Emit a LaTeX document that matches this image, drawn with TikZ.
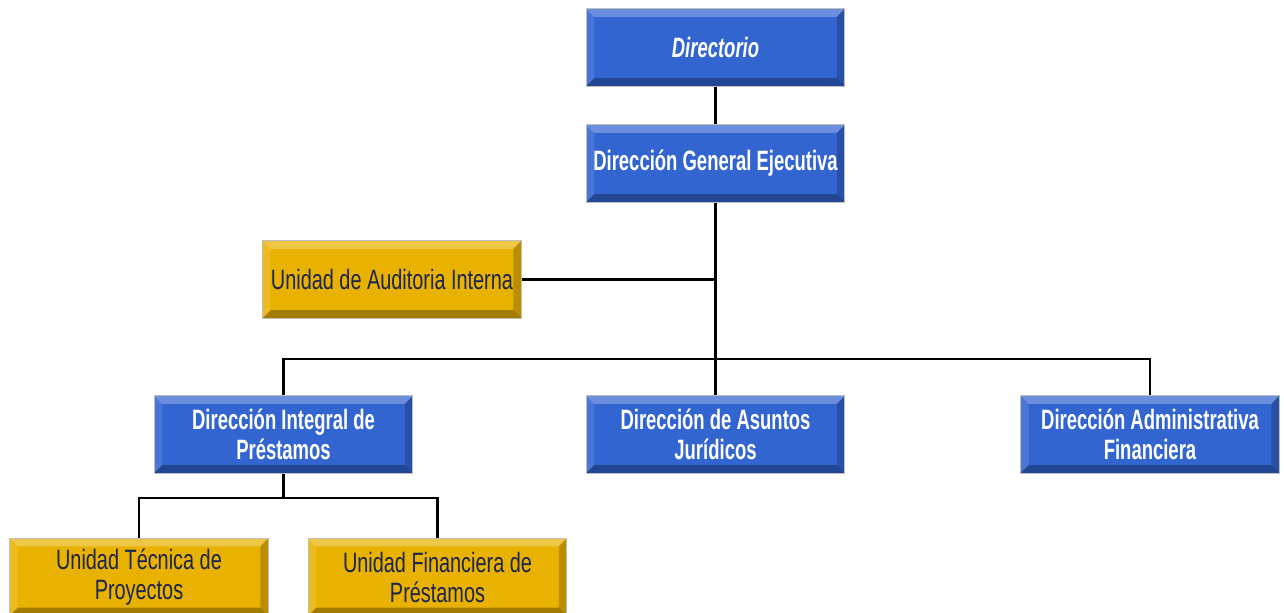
\documentclass[tikz,border=0pt]{standalone}
\usepackage{fontspec}
\setmainfont{Liberation Sans}[FakeStretch=0.66]
\newfontfamily\officefont{Liberation Sans}[FakeStretch=0.71]
\definecolor{boxblue}{HTML}{3265D0}
\definecolor{boxgold}{HTML}{E9B200}
\definecolor{navytext}{HTML}{1C2450}

\tikzstyle{bevel} = [path picture={
    \fill [white,opacity=0.28] (path picture bounding box.north west) -- (path picture bounding box.north east)
        -- ([xshift=-6pt,yshift=-6pt]path picture bounding box.north east) -- ([xshift=6pt,yshift=-6pt]path picture bounding box.north west) -- cycle;
    \fill [white,opacity=0.12] (path picture bounding box.north west) -- (path picture bounding box.south west)
        -- ([xshift=6pt,yshift=6pt]path picture bounding box.south west) -- ([xshift=6pt,yshift=-6pt]path picture bounding box.north west) -- cycle;
    \fill [black,opacity=0.30] (path picture bounding box.south west) -- (path picture bounding box.south east)
        -- ([xshift=-6pt,yshift=6pt]path picture bounding box.south east) -- ([xshift=6pt,yshift=6pt]path picture bounding box.south west) -- cycle;
    \fill [black,opacity=0.20] (path picture bounding box.north east) -- (path picture bounding box.south east)
        -- ([xshift=-6pt,yshift=6pt]path picture bounding box.south east) -- ([xshift=-6pt,yshift=-6pt]path picture bounding box.north east) -- cycle;
}]
\tikzstyle{unit} = [style=bevel,rectangle,draw=black!25,line width=0.6pt,minimum width=194pt,minimum height=58pt,
    inner sep=0pt,align=center]
\tikzstyle{dept} = [style=unit,fill=boxblue,text=white,font=\fontsize{21}{22.5}\selectfont\bfseries]
\tikzstyle{office} = [style=unit,fill=boxgold,text=navytext,font=\officefont\fontsize{21}{22.5}\selectfont]
\tikzstyle{edge} = [draw=black,line width=1.6pt]

\begin{document}
\begin{tikzpicture}[x=0.75pt,y=-0.75pt]
    \useasboundingbox (0,0) rectangle (1284,613);

    \coordinate (DIR) at (715.5, 47.5);
    \coordinate (DGE) at (715.5, 163.5);
    \coordinate (AUD) at (392, 279.5);
    \coordinate (DIP) at (283.5, 434.5);
    \coordinate (DAJ) at (715.5, 434.5);
    \coordinate (DAF) at (1150, 434.5);
    \coordinate (UTP) at (139, 577);
    \coordinate (UFP) at (437.5, 577);
    \coordinate (bus) at (715.5, 359);
    \coordinate (split) at (283.5, 498);

    \node [style=dept] (DIR) at (DIR) {\itshape Directorio};
    \node [style=dept] (DGE) at (DGE) {Dirección General Ejecutiva};
    \node [style=office] (AUD) at (AUD) {Unidad de Auditoria Interna};
    \node [style=dept] (DIP) at (DIP) {Dirección Integral de\\Préstamos};
    \node [style=dept] (DAJ) at (DAJ) {Dirección de Asuntos\\Jurídicos};
    \node [style=dept] (DAF) at (DAF) {Dirección Administrativa\\Financiera};
    \node [style=office] (UTP) at (UTP) {Unidad Técnica de\\Proyectos};
    \node [style=office] (UFP) at (UFP) {Unidad Financiera de\\Préstamos};

    \draw [style=edge] (DIR) -- (DGE);
    \draw [style=edge] (DGE) -- (DAJ);
    \draw [style=edge] (AUD) -- (AUD -| DGE);
    \draw [style=edge] (DIP.north) |- (bus) -| (DAF.north);
    \draw [style=edge] (DIP) -- (split);
    \draw [style=edge] (UTP.north) |- (split) -| (UFP.north);
\end{tikzpicture}
\end{document}
